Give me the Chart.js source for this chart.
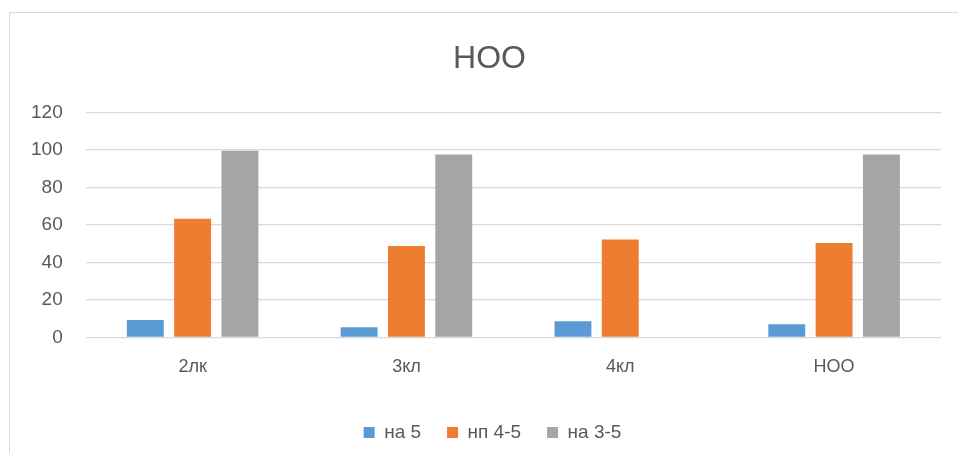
<!DOCTYPE html>
<html>
<head>
<meta charset="utf-8">
<script src="https://cdn.jsdelivr.net/npm/chart.js@4"></script>
<style>
  html, body { margin: 0; padding: 0; background: #fff; overflow: hidden; }
  #frame { position: absolute; left: 9px; top: 12px; width: 1000px; height: 500px; border: 1px solid #d9d9d9; }
  #wrap { position: absolute; left: 0; top: 0; width: 958px; height: 453px; }
</style>
</head>
<body>
<div id="frame"></div>
<div id="wrap"><canvas id="chart"></canvas></div>
<script>
// data
var categories = ["2лк", "3кл", "4кл", "НОО"];
var seriesNames = ["на 5", "нп 4-5", "на 3-5"];
var na5 = [9.3, 5.4, 8.6, 7.0];
var np45 = [63.3, 48.7, 52.2, 50.3];
var na35 = [99.6, 97.5, null, 97.5];
var yTicks = [0, 20, 40, 60, 80, 100, 120];

var colors = ["#5b9bd5", "#ed7d31", "#a5a5a5"];
var textColor = "#595959";
var fontFamily = "'Liberation Sans', Arial, sans-serif";

// title and legend sit a little right of the canvas centre in the original
var shiftBlocks = {
  id: "shiftBlocks",
  afterLayout: function (chart) {
    chart.legend.left += 18; chart.legend.right += 18;
    chart.titleBlock.left += 15; chart.titleBlock.right += 15;
  }
};

var ctx = document.getElementById("chart");

var chart = new Chart(ctx, {
  type: "bar",
  data: {
    labels: categories,
    datasets: [na5, np45, na35].map(function (values, i) {
      return {
        label: seriesNames[i],
        data: values,
        backgroundColor: colors[i],
        borderWidth: 0,
        categoryPercentage: 0.664,
        barPercentage: 0.78
      };
    })
  },
  plugins: [shiftBlocks],
  options: {
    responsive: true,
    maintainAspectRatio: false,
    animation: false,
    layout: { padding: { left: 8, right: 17, top: 22, bottom: 1 } },
    plugins: {
      title: {
        display: true,
        text: "НОО",
        color: textColor,
        font: { family: fontFamily, size: 32, weight: "normal" },
        padding: { top: 18, bottom: 34 }
      },
      legend: {
        position: "bottom",
        labels: {
          color: textColor,
          font: { family: fontFamily, size: 19 },
          boxWidth: 11,
          boxHeight: 11,
          padding: 26
        }
      },
      tooltip: { enabled: false }
    },
    scales: {
      x: {
        grid: { display: false, drawTicks: false },
        border: { display: false },
        ticks: { color: textColor, font: { family: fontFamily, size: 18 }, padding: 19 }
      },
      y: {
        min: 0,
        max: 120,
        afterBuildTicks: function (axis) {
          axis.ticks = yTicks.map(function (v) { return { value: v }; });
        },
        grid: { color: "#d9d9d9", lineWidth: 1.3, drawTicks: false },
        border: { display: false },
        ticks: { color: textColor, font: { family: fontFamily, size: 19 }, padding: 23 }
      }
    }
  }
});
</script>
</body>
</html>
